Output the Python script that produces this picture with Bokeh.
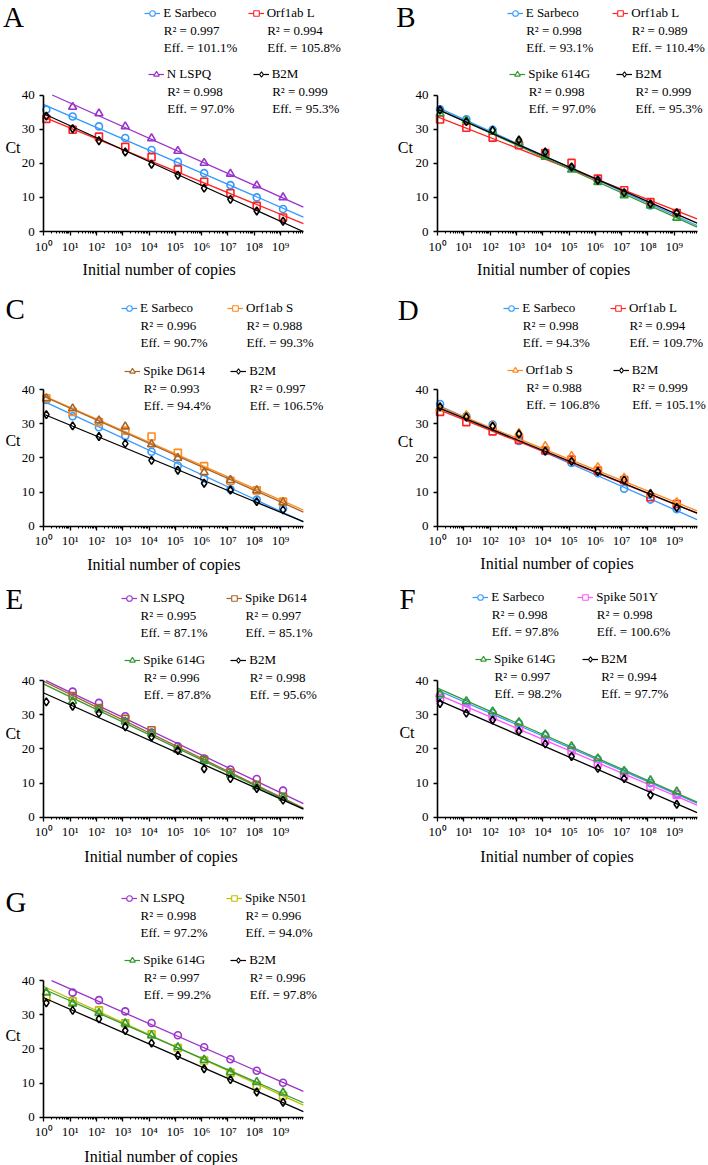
import numpy as np
from bokeh.plotting import figure
from bokeh.models import Range1d, FixedTicker, Label, Legend, LegendItem, ColumnDataSource
from bokeh.core.properties import value
from bokeh.layouts import column, row
from bokeh.embed import file_html
from bokeh.resources import INLINE

FONT = "Liberation Serif"
nan = float("nan")

# ---------------- data ----------------
copies = [1.25 * 10 ** k for k in range(10)]          # dilution series (copies)
tick_values = [10 ** k for k in range(10)]
tick_labels = ["10\u2070", "10\u00b9", "10\u00b2", "10\u00b3", "10\u2074",
               "10\u2075", "10\u2076", "10\u2077", "10\u2078", "10\u2079"]
y_ticks = [0, 10, 20, 30, 40]
x_max = 10 ** 9.87
y_max = 40

A_names = ["E Sarbeco", "Orf1ab L", "N LSPQ", "B2M"]
A_r2 = ["0.997", "0.994", "0.998", "0.999"]
A_eff = ["101.1%", "105.8%", "97.0%", "95.3%"]
A_ct = [[35.7, 33.7, 30.8, 27.4, 23.9, 20.4, 17.1, 13.6, 10.0, 6.6],
        [33.0, 29.8, 27.8, 24.8, 21.8, 18.2, 14.6, 11.2, 7.5, 4.1],
        [nan, 36.5, 34.6, 30.8, 27.3, 23.6, 20.1, 16.9, 13.5, 10.0],
        [33.8, 30.1, 26.6, 23.3, 19.7, 16.5, 12.7, 9.4, 6.0, 3.0]]
A_icpt = [37.2, 33.5, 41.1, 34.5]
A_slope = [-3.34, -3.16, -3.44, -3.50]

B_names = ["E Sarbeco", "Orf1ab L", "Spike 614G", "B2M"]
B_r2 = ["0.998", "0.989", "0.998", "0.999"]
B_eff = ["93.1%", "110.4%", "97.0%", "95.3%"]
B_ct = [[35.8, 32.9, 29.8, 26.0, 22.6, 18.7, 15.0, 11.3, 7.6, 5.2],
        [32.8, 30.4, 27.5, 25.3, 23.0, 20.1, 15.5, 12.1, 8.6, 5.4],
        [34.6, 32.5, 29.4, 26.0, 21.9, 18.1, 14.5, 10.6, 7.6, 4.0],
        [35.6, 32.2, 29.7, 26.8, 23.3, 18.9, 15.0, 11.4, 8.1, 5.5]]
B_icpt = [36.4, 33.6, 35.9, 35.8]
B_slope = [-3.51, -3.03, -3.51, -3.38]

C_names = ["E Sarbeco", "Orf1ab S", "Spike D614", "B2M"]
C_r2 = ["0.996", "0.988", "0.993", "0.997"]
C_eff = ["90.7%", "99.3%", "94.4%", "106.5%"]
C_ct = [[37.0, 32.2, 29.0, 26.4, 21.8, 17.8, 14.0, 10.8, 7.8, 5.2],
        [37.5, 33.5, 30.5, 28.0, 26.3, 21.5, 17.6, 13.3, 10.5, 7.2],
        [37.5, 34.5, 31.0, 29.2, 24.0, 20.0, 15.8, 13.5, 10.5, 7.0],
        [32.7, 29.4, 26.3, 24.2, 19.3, 16.4, 12.6, 10.6, 7.2, 4.8]]
C_icpt = [36.6, 38.2, 38.0, 32.8]
C_slope = [-3.58, -3.39, -3.43, -3.19]

D_names = ["E Sarbeco", "Orf1ab L", "Orf1ab S", "B2M"]
D_r2 = ["0.998", "0.994", "0.988", "0.999"]
D_eff = ["94.3%", "109.7%", "106.8%", "105.1%"]
D_ct = [[35.8, 32.3, 29.8, 25.0, 22.0, 18.5, 15.5, 11.0, 7.8, 5.0],
        [33.5, 30.5, 27.8, 25.3, 22.2, 19.5, 16.3, 13.5, 8.5, 6.5],
        [34.5, 32.5, 29.5, 27.3, 23.5, 20.6, 17.3, 14.2, 9.5, 7.0],
        [35.0, 32.0, 29.3, 27.0, 22.0, 19.0, 16.0, 13.5, 9.5, 5.5]]
D_icpt = [35.5, 34.3, 35.2, 34.8]
D_slope = [-3.40, -3.09, -3.11, -3.14]

E_names = ["N LSPQ", "Spike D614", "Spike 614G", "B2M"]
E_r2 = ["0.995", "0.997", "0.996", "0.998"]
E_eff = ["87.1%", "85.1%", "87.8%", "95.6%"]
E_ct = [[nan, 36.8, 33.5, 29.6, 24.8, 20.8, 17.2, 14.0, 11.2, 7.8],
        [nan, 35.5, 32.0, 28.8, 25.5, 20.0, 16.8, 13.0, 9.5, 6.0],
        [nan, 34.0, 31.5, 28.0, 24.5, 19.8, 16.5, 12.5, 9.0, 5.8],
        [33.8, 32.5, 30.5, 26.5, 23.5, 19.5, 14.2, 11.3, 8.4, 5.0]]
E_icpt = [40.3, 39.8, 39.0, 36.4]
E_slope = [-3.68, -3.76, -3.70, -3.45]

F_names = ["E Sarbeco", "Spike 501Y", "Spike 614G", "B2M"]
F_r2 = ["0.998", "0.998", "0.997", "0.994"]
F_eff = ["97.8%", "100.6%", "98.2%", "97.7%"]
F_ct = [[35.8, 33.5, 30.5, 27.5, 24.0, 20.3, 17.0, 13.3, 10.0, 6.8],
        [35.0, 32.0, 29.5, 26.0, 22.5, 19.5, 15.8, 12.0, 9.0, 6.5],
        [36.0, 34.0, 31.0, 27.8, 24.2, 20.8, 17.2, 13.5, 10.8, 7.5],
        [33.3, 30.5, 28.5, 25.2, 21.5, 17.8, 14.3, 11.3, 6.5, 3.8]]
F_icpt = [37.2, 36.0, 37.8, 34.4]
F_slope = [-3.35, -3.29, -3.38, -3.35]

G_names = ["N LSPQ", "Spike N501", "Spike 614G", "B2M"]
G_r2 = ["0.998", "0.996", "0.997", "0.996"]
G_eff = ["97.2%", "94.0%", "99.2%", "97.8%"]
G_ct = [[nan, 36.5, 34.3, 31.0, 27.6, 24.0, 20.5, 17.0, 13.6, 10.1],
        [35.0, 34.0, 31.3, 27.5, 24.3, 20.3, 16.6, 13.0, 9.3, 6.3],
        [36.5, 33.3, 30.5, 27.5, 24.0, 20.5, 16.8, 13.2, 10.3, 7.2],
        [33.5, 31.3, 28.8, 25.4, 21.7, 18.1, 14.2, 11.0, 7.4, 4.4]]
G_icpt = [41.0, 38.3, 37.5, 35.0]
G_slope = [-3.39, -3.52, -3.37, -3.38]

# ---------------- style / layout ----------------
BLUE, RED, PURPLE, BLACK = "#3399FF", "#FF2222", "#9933CC", "#000000"
GREEN, ORANGE, BROWN = "#339933", "#FF8A1E", "#A5652A"
MAGENTA, OLIVE = "#FF55FF", "#BDBD00"
MARKERS = ["circle", "square", "triangle", "diamond"]
SIZES = [7, 7, 8, 8]
LEG_SIZES = [6, 6, 7, 7]

COLS = [(0, 354), (354, 354)]                             # figure left, width (page px)
ROWS = [(0, 288), (288, 293), (581, 296), (877, 288)]     # figure top, height
AXIS_X0 = [43.3, 437.0]                                   # page x of 10^0
AXIS_Y0 = [231.0, 525.7, 816.7, 1116.7]                   # page y of Ct = 0
PX_DEC = 26.3                                             # px per decade
PX_UNIT = 3.4125                                          # px per Ct unit
LEG_H = 14

# page positions: legend (row1 text x, col2 text x, row1 y, row2 text x, col2 text x, row2 y),
# letter (x, y), "Ct" centre, x-title centre
POS = {
    "A": dict(leg=(163.3, 266.7, 14, 166.7, 271.7, 75), let=(2.5, 16.5), ct=(12.5, 146.7), xl=(158.7, 269.3)),
    "B": dict(leg=(525.7, 631.3, 14, 528.3, 635, 75), let=(395.7, 16.5), ct=(404.8, 146.7), xl=(553.2, 269.3)),
    "C": dict(leg=(140, 246, 309.3, 143.3, 249.3, 371.7), let=(5, 308.8), ct=(12.5, 440), xl=(163.3, 564)),
    "D": dict(leg=(522.3, 629, 309.3, 525.7, 631.7, 371), let=(397.3, 309.7), ct=(404.8, 440.7), xl=(556.5, 563.3)),
    "E": dict(leg=(140, 245, 599.3, 143.3, 249.3, 661), let=(5, 598.8), ct=(12.5, 733), xl=(160.5, 856)),
    "F": dict(leg=(491.3, 596.3, 598.3, 494, 600.7, 660), let=(399, 598.8), ct=(406.5, 731.7), xl=(556.5, 856)),
    "G": dict(leg=(140, 245, 899.3, 143.3, 249.3, 961), let=(5, 901.2), ct=(12.5, 1035), xl=(160.5, 1155.7)),
}


def panel(letter, names, r2, eff, ct, icpt, slope, colors, col, rw):
    fx, w = COLS[col]
    fy, h = ROWS[rw]
    fb = fy + h
    x0, y0 = AXIS_X0[col], AXIS_Y0[rw]
    xr = Range1d(10 ** (-(x0 - fx) / PX_DEC), 10 ** ((fx + w - x0) / PX_DEC))
    yr = Range1d(-(fb - y0) / PX_UNIT, (y0 - fy) / PX_UNIT)
    p = figure(width=w, height=h, x_axis_type="log", x_range=xr, y_range=yr,
               output_backend="svg", toolbar_location=None, title=None,
               min_border_left=0, min_border_right=0, min_border_top=0, min_border_bottom=0)
    p.grid.visible = False
    p.outline_line_color = None
    p.background_fill_color = "white"
    p.border_fill_color = "white"

    minor = [m * 10 ** k for k in range(10) for m in range(2, 10) if m * 10 ** k <= x_max]
    p.xaxis.ticker = FixedTicker(ticks=tick_values, minor_ticks=minor)
    p.xaxis.major_label_overrides = {t: s for t, s in zip(tick_values, tick_labels)}
    p.yaxis.ticker = FixedTicker(ticks=y_ticks, minor_ticks=[])
    p.xaxis.fixed_location = 0
    p.yaxis.fixed_location = 1
    p.xaxis.bounds = (1, x_max)
    p.yaxis.bounds = (0, y_max)
    for ax in (p.xaxis, p.yaxis):
        ax.axis_line_width = 1.6
        ax.axis_line_color = "black"
        ax.major_tick_line_width = 1.3
        ax.major_tick_out = 4
        ax.major_tick_in = 0
        ax.minor_tick_line_width = 1
        ax.minor_tick_out = 2
        ax.minor_tick_in = 0
        ax.major_label_text_font = FONT
        ax.major_label_text_font_size = "13px"
        ax.major_label_text_color = "black"
    p.xaxis.major_label_standoff = 3
    p.yaxis.major_label_standoff = 5
    p.yaxis.minor_tick_line_color = None

    def add_text(text, px, py, size, align="left"):
        p.add_layout(Label(x=px - fx, y=fb - py, x_units="screen", y_units="screen",
                           text=text, text_font=FONT, text_font_size=size,
                           text_align=align, text_baseline="middle", text_color="black"))

    l1x, l2x, ly1, r1x, r2x, ly2 = POS[letter]["leg"]
    spots = [(l1x, ly1), (l2x, ly1), (r1x, ly2), (r2x, ly2)]
    t_end = np.log10(x_max)
    for i in range(4):
        b, m = icpt[i], slope[i]
        t0, t1 = 0.0, t_end
        if b + m * t0 > y_max:
            t0 = (y_max - b) / m
        if b + m * t1 < 0:
            t1 = -b / m
        ts = np.array([t0, t1])
        p.line(10 ** ts, b + m * ts, line_color=colors[i], line_width=1.3)
        src = ColumnDataSource(dict(x=np.array(copies), y=np.array(ct[i], dtype=float)))
        p.scatter("x", "y", source=src, marker=MARKERS[i], size=SIZES[i],
                  line_color=colors[i], fill_color=None, line_width=1.6)
        # legend key (line through a small open marker); its single point is NaN, so
        # it is drawn only in the legend
        kl = p.line(x=[nan, nan], y=[nan, nan], line_color=colors[i], line_width=1.2)
        km = p.scatter(x=[nan], y=[nan], marker=MARKERS[i], size=LEG_SIZES[i],
                       line_color=colors[i], fill_color="white", line_width=1.1)
        tx, ty = spots[i]
        p.add_layout(Legend(items=[LegendItem(label=value(names[i]), renderers=[kl, km])],
                            location=(tx - 19 - fx, fb - (ty + LEG_H / 2)),
                            orientation="vertical", padding=0, margin=0, spacing=0,
                            glyph_width=16, glyph_height=LEG_H, label_height=LEG_H,
                            label_width=20, label_standoff=3,
                            label_text_font=FONT, label_text_font_size="13px",
                            label_text_color="black", border_line_color=None,
                            background_fill_alpha=0))
        add_text("R\u00b2 = " + r2[i], tx, ty + 16, "13px")
        add_text("Eff. = " + eff[i], tx, ty + 33, "13px")

    lx, lyy = POS[letter]["let"]
    add_text(letter, lx, lyy, "29px")
    cx, cy = POS[letter]["ct"]
    add_text("Ct", cx, cy, "16px", "center")
    xc, xy = POS[letter]["xl"]
    add_text("Initial number of copies", xc, xy, "16px", "center")
    return p


pA = panel("A", A_names, A_r2, A_eff, A_ct, A_icpt, A_slope, [BLUE, RED, PURPLE, BLACK], 0, 0)
pB = panel("B", B_names, B_r2, B_eff, B_ct, B_icpt, B_slope, [BLUE, RED, GREEN, BLACK], 1, 0)
pC = panel("C", C_names, C_r2, C_eff, C_ct, C_icpt, C_slope, [BLUE, ORANGE, BROWN, BLACK], 0, 1)
pD = panel("D", D_names, D_r2, D_eff, D_ct, D_icpt, D_slope, [BLUE, RED, ORANGE, BLACK], 1, 1)
pE = panel("E", E_names, E_r2, E_eff, E_ct, E_icpt, E_slope, [PURPLE, BROWN, GREEN, BLACK], 0, 2)
pF = panel("F", F_names, F_r2, F_eff, F_ct, F_icpt, F_slope, [BLUE, MAGENTA, GREEN, BLACK], 1, 2)
pG = panel("G", G_names, G_r2, G_eff, G_ct, G_icpt, G_slope, [PURPLE, OLIVE, GREEN, BLACK], 0, 3)

layout = column(row(pA, pB), row(pC, pD), row(pE, pF), row(pG))
open("out.html", "w").write(file_html(layout, INLINE))
